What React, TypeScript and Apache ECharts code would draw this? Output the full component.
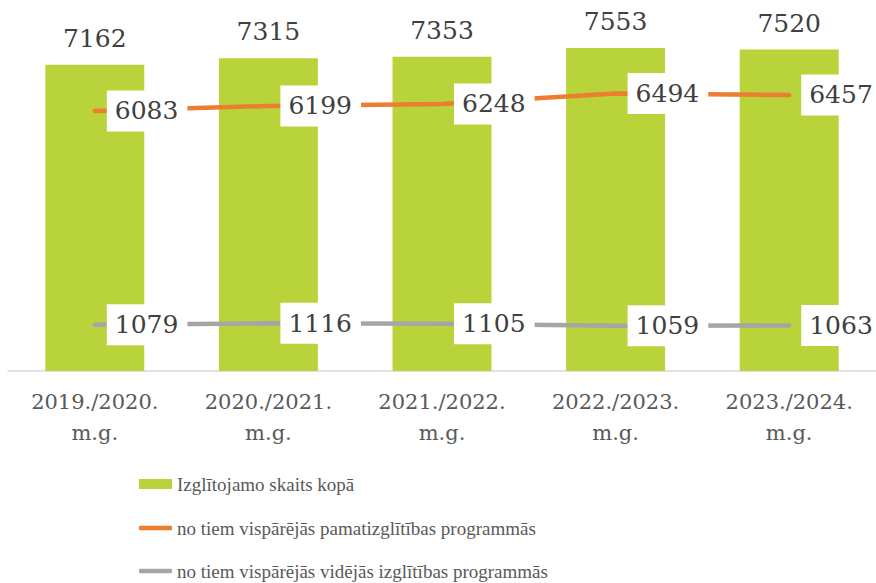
import React, { useEffect, useRef } from "react";
import * as echarts from "echarts";

const categories = [
  "2019./2020.\nm.g.",
  "2020./2021.\nm.g.",
  "2021./2022.\nm.g.",
  "2022./2023.\nm.g.",
  "2023./2024.\nm.g.",
];
const totalValues = [7162, 7315, 7353, 7553, 7520];
const basicValues = [6083, 6199, 6248, 6494, 6457];
const secondaryValues = [1079, 1116, 1105, 1059, 1063];
const seriesNames = [
  "Izglītojamo skaits kopā",
  "no tiem vispārējās pamatizglītības programmās",
  "no tiem vispārējās vidējās izglītības programmās",
];

const SERIF = "'DejaVu Serif', 'Liberation Serif', serif";
const LEGEND_FONT = { color: "#595959", fontFamily: "'Liberation Serif', serif", fontSize: 19, lineHeight: 20 };

export default function App() {
  const ref = useRef<HTMLDivElement>(null);
  useEffect(() => {
    if (!ref.current) return;
    const chart = echarts.init(ref.current, undefined, { renderer: "svg" });
    const lineLabel = {
      show: true,
      position: "right",
      distance: 12,
      color: "#404040",
      fontFamily: SERIF,
      fontSize: 25,
      backgroundColor: "#ffffff",
      padding: [8, 9, 8, 8],
    };
    const legendBase = {
      orient: "horizontal",
      left: 134,
      itemWidth: 33,
      itemGap: 0,
      itemTextGap: 3,
      textStyle: LEGEND_FONT,
    };
    chart.setOption({
      animation: false,
      backgroundColor: "#ffffff",
      grid: { left: 8, right: 0, top: 29, bottom: 212, containLabel: false },
      xAxis: {
        type: "category",
        data: categories,
        axisLine: { lineStyle: { color: "#D9D9D9", width: 1.5 } },
        axisTick: { show: false },
        axisLabel: {
          color: "#595959",
          fontFamily: SERIF,
          fontSize: 21,
          lineHeight: 31,
          margin: 15,
        },
      },
      yAxis: { type: "value", min: 0, max: 8000, show: false, splitLine: { show: false } },
      legend: [
        { ...legendBase, top: 469, itemHeight: 10, data: [{ name: seriesNames[0], icon: "rect" }] },
        { ...legendBase, top: 513, itemHeight: 4.5, data: [{ name: seriesNames[1], icon: "roundRect" }] },
        { ...legendBase, top: 556, itemHeight: 4.5, data: [{ name: seriesNames[2], icon: "roundRect" }] },
      ],
      series: [
        {
          name: seriesNames[0],
          type: "bar",
          data: totalValues,
          barWidth: "57%",
          itemStyle: { color: "#B8D43A" },
          label: {
            show: true,
            position: "top",
            distance: 14,
            color: "#404040",
            fontFamily: SERIF,
            fontSize: 25,
          },
        },
        {
          name: seriesNames[1],
          type: "line",
          data: basicValues,
          symbol: "circle",
          symbolSize: 0.01,
          showSymbol: true,
          lineStyle: { color: "#ED7D31", width: 4.5, cap: "round" },
          itemStyle: { color: "#ED7D31" },
          label: lineLabel,
        },
        {
          name: seriesNames[2],
          type: "line",
          data: secondaryValues,
          symbol: "circle",
          symbolSize: 0.01,
          showSymbol: true,
          lineStyle: { color: "#A5A5A5", width: 4.5, cap: "round" },
          itemStyle: { color: "#A5A5A5" },
          label: lineLabel,
        },
      ],
    });
    return () => chart.dispose();
  }, []);
  return <div ref={ref} style={{ position: "fixed", left: 0, top: 0, width: 876, height: 583 }} />;
}
